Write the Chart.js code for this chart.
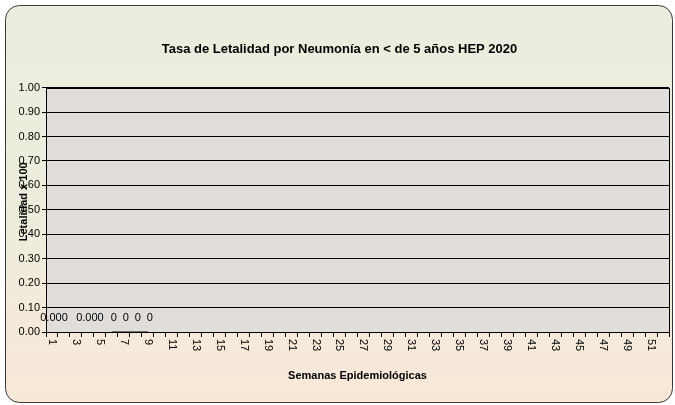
<!DOCTYPE html>
<html>
<head>
<meta charset="utf-8">
<script src="https://cdn.jsdelivr.net/npm/chart.js@4"></script>
<style>
  html, body { margin: 0; padding: 0; background: #ffffff; }
  #wrap { width: 675px; height: 405px; }
</style>
</head>
<body>
<div id="wrap"><canvas id="cvs" width="675" height="405"></canvas></div>
<script>
/*==========| data |========== */
const weeks = [];
for (let i = 1; i <= 52; i++) weeks.push(String(i));

// tasa de letalidad (x 100) por semana, solo semanas con dato
const tasa = [0, null, null, 0, null, 0, 0, 0, 0];
const tasaLabels = ['0.000', null, null, '0.000', null, '0', '0', '0', '0'];

const yTicks = [0, 0.1, 0.2, 0.3, 0.4, 0.5, 0.6, 0.7, 0.8, 0.9, 1.0];

const titleText = 'Tasa de Letalidad por Neumonía en < de 5 años HEP 2020';
const yTitle = 'Letalidad x 100';
const xTitle = 'Semanas Epidemiológicas';

/*==========| setup |========== */
const fontNarrow = "'Liberation Sans Narrow', 'Arial Narrow', 'Liberation Sans', sans-serif";

const bgPlugin = {
    id: 'bgPlugin',
    beforeDraw(chart) {
        const c = chart.ctx;
        const w = chart.width, h = chart.height;
        c.save();
        const g = c.createLinearGradient(0, 0, 0, h);
        g.addColorStop(0, '#eaeedf');
        g.addColorStop(0.55, '#eeecdc');
        g.addColorStop(1, '#f9e8d8');
        c.fillStyle = g;
        c.beginPath();
        c.roundRect(5.5, 5.5, w - 8, h - 8, 14);
        c.fill();
        c.strokeStyle = '#3a3a3a';
        c.lineWidth = 1;
        c.stroke();
        // plot area
        const a = chart.chartArea;
        c.fillStyle = '#e0dddb';
        c.fillRect(a.left, a.top, a.right - a.left, a.bottom - a.top);
        c.restore();
    },
    afterDraw(chart) {
        const c = chart.ctx;
        const a = chart.chartArea;
        c.save();
        c.strokeStyle = '#000000';
        c.lineWidth = 1;
        c.strokeRect(Math.round(a.left) + 0.5, Math.round(a.top) + 0.5, Math.round(a.right - a.left), Math.round(a.bottom - a.top));
        // etiquetas de datos
        const meta = chart.getDatasetMeta(0);
        c.font = '11px ' + fontNarrow;
        c.fillStyle = '#000000';
        c.textAlign = 'center';
        c.textBaseline = 'middle';
        meta.data.forEach((pt, i) => {
            if (tasaLabels[i] == null) return;
            c.fillText(tasaLabels[i], pt.x + 2, pt.y - 14);
        });
        // etiquetas eje x (giradas en sentido horario)
        const xs = chart.scales.x;
        c.font = '11px ' + fontNarrow;
        c.textAlign = 'left';
        weeks.forEach((wk, i) => {
            if (i % 2 !== 0) return;
            c.save();
            c.translate(xs.getPixelForTick(i), a.bottom + 7);
            c.rotate(Math.PI / 2);
            c.fillText(wk, 0, 0);
            c.restore();
        });
        // titulo eje y
        c.textAlign = 'center';
        c.translate(24, (a.top + a.bottom) / 2 - 8);
        c.rotate(-Math.PI / 2);
        c.font = 'bold 11px ' + fontNarrow;
        c.fillText(yTitle, 0, 0);
        c.restore();
    }
};

let ctx = document.getElementById('cvs');
let chart = new Chart(ctx, {
    type: 'line',
    data: {
        labels: weeks,
        datasets: [{
            label: 'Tasa',
            data: tasa,
            borderColor: '#000000',
            borderWidth: 1,
            pointRadius: 0,
            spanGaps: false
        }]
    },
    options: {
        responsive: false,
        animation: false,
        layout: { padding: { top: 7, left: 10, right: 6, bottom: 0 } },
        plugins: {
            legend: { display: false },
            tooltip: { enabled: false },
            title: {
                display: true,
                text: titleText,
                color: '#000000',
                font: { family: fontNarrow, size: 13, weight: 'bold' },
                padding: { top: 35, bottom: 30 }
            }
        },
        scales: {
            x: {
                offset: true,
                grid: {
                    offset: true,
                    drawOnChartArea: false,
                    drawTicks: true,
                    tickLength: 5,
                    color: '#000000'
                },
                border: { color: '#000000' },
                ticks: {
                    display: false,
                    autoSkip: false
                },
                title: {
                    display: true,
                    text: xTitle,
                    color: '#000000',
                    font: { family: fontNarrow, size: 11, weight: 'bold' },
                    padding: { top: 0, bottom: 22 }
                },
                afterFit: (scale) => { scale.height = 73; }
            },
            y: {
                min: 0,
                max: 1,
                afterBuildTicks: (scale) => { scale.ticks = yTicks.map(v => ({ value: v })); },
                grid: {
                    color: '#000000',
                    tickLength: 4
                },
                border: { color: '#000000' },
                ticks: {
                    padding: 2,
                    color: '#000000',
                    font: { family: fontNarrow, size: 11 },
                    callback: (v) => v.toFixed(2)
                },
                afterFit: (scale) => { scale.width = 36; }
            }
        }
    },
    plugins: [bgPlugin]
});
</script>
</body>
</html>
